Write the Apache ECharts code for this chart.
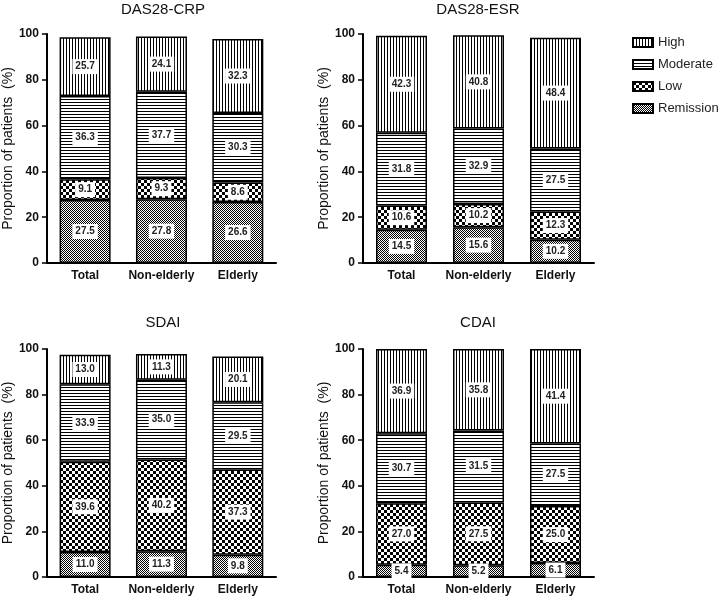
<!DOCTYPE html>
<html><head><meta charset="utf-8">
<script src="https://cdn.jsdelivr.net/npm/echarts@6/dist/echarts.min.js"></script>
<style>html,body{margin:0;padding:0;background:#fff}#c{width:725px;height:597px}</style>
</head><body><div id="c"></div>
<script>
const categories = ['Total', 'Non-elderly', 'Elderly'];
const levels = ['Remission', 'Low', 'Moderate', 'High'];
const legendOrder = ['High', 'Moderate', 'Low', 'Remission'];
const panelTitles = ['DAS28-CRP', 'DAS28-ESR', 'SDAI', 'CDAI'];
const yAxisName = 'Proportion of patients  (%)';
const yMin = 0, yMax = 100, yStep = 20;

const crpRemission = [27.5, 27.8, 26.6];
const crpLow = [9.1, 9.3, 8.6];
const crpModerate = [36.3, 37.7, 30.3];
const crpHigh = [25.7, 24.1, 32.3];

const esrRemission = [14.5, 15.6, 10.2];
const esrLow = [10.6, 10.2, 12.3];
const esrModerate = [31.8, 32.9, 27.5];
const esrHigh = [42.3, 40.8, 48.4];

const sdaiRemission = [11.0, 11.3, 9.8];
const sdaiLow = [39.6, 40.2, 37.3];
const sdaiModerate = [33.9, 35.0, 29.5];
const sdaiHigh = [13.0, 11.3, 20.1];

const cdaiRemission = [5.4, 5.2, 6.1];
const cdaiLow = [27.0, 27.5, 25.0];
const cdaiModerate = [30.7, 31.5, 27.5];
const cdaiHigh = [36.9, 35.8, 41.4];

const panelData = [
  [crpRemission, crpLow, crpModerate, crpHigh],
  [esrRemission, esrLow, esrModerate, esrHigh],
  [sdaiRemission, sdaiLow, sdaiModerate, sdaiHigh],
  [cdaiRemission, cdaiLow, cdaiModerate, cdaiHigh]
];

// ---- styling ----
const FONT = 'Liberation Sans, Arial, sans-serif';
function makePattern(kind) {
  const c = document.createElement('canvas');
  let w = 3, h = 3;
  if (kind === 'Low') { w = 6; h = 6; }
  if (kind === 'Remission') { w = 2; h = 2; }
  c.width = w; c.height = h;
  const ctx = c.getContext('2d');
  ctx.fillStyle = '#fff'; ctx.fillRect(0, 0, w, h);
  ctx.fillStyle = '#000';
  if (kind === 'High') ctx.fillRect(0, 0, 1, h);
  else if (kind === 'Moderate') ctx.fillRect(0, 0, w, 1);
  else if (kind === 'Low') { ctx.fillRect(0, 0, 3, 3); ctx.fillRect(3, 3, 3, 3); }
  else { ctx.fillRect(0, 0, 1, 1); ctx.fillRect(1, 1, 1, 1); }
  return { image: c, repeat: 'repeat' };
}
const patterns = {};
levels.forEach(l => patterns[l] = makePattern(l));

const gridBoxes = [
  { left: 45, top: 34, width: 231, height: 229 },
  { left: 363, top: 34, width: 231, height: 229 },
  { left: 45, top: 349, width: 231, height: 228 },
  { left: 363, top: 349, width: 231, height: 228 }
];
const titlePos = [
  { left: 163, top: 2 }, { left: 478, top: 2 },
  { left: 163, top: 315 }, { left: 478, top: 315 }
];

const option = {
  backgroundColor: '#fff',
  animation: false,
  textStyle: { fontFamily: FONT },
  title: panelTitles.map((t, i) => ({
    text: t, left: titlePos[i].left, top: titlePos[i].top, textAlign: 'center', padding: 0,
    textStyle: { fontSize: 15, fontWeight: 'normal', color: '#111', fontFamily: FONT }
  })),
  legend: {
    data: legendOrder, orient: 'vertical', left: 627, top: 31,
    itemWidth: 20, itemHeight: 9, itemGap: 9, icon: 'rect',
    textStyle: { fontSize: 13, color: '#222', fontFamily: FONT }
  },
  grid: gridBoxes.map(g => Object.assign({ containLabel: false }, g)),
  xAxis: gridBoxes.map((g, i) => ({
    type: 'category', gridIndex: i, data: categories,
    axisLine: { lineStyle: { color: '#000', width: 2 } },
    axisTick: { alignWithLabel: true, length: 4, lineStyle: { color: '#000', width: 1.5 } },
    axisLabel: { interval: 0, color: '#111', fontWeight: 'bold', fontSize: 12, margin: 7, fontFamily: FONT },
    splitLine: { show: false }
  })),
  yAxis: gridBoxes.map((g, i) => ({
    type: 'value', gridIndex: i, min: yMin, max: yMax, interval: yStep,
    name: yAxisName, nameLocation: 'middle', nameGap: 26,
    nameTextStyle: { fontSize: 14, color: '#111', fontFamily: FONT },
    axisLine: { show: true, lineStyle: { color: '#000', width: 2 } },
    axisTick: { show: true, length: 5, lineStyle: { color: '#000', width: 1.5 } },
    axisLabel: { color: '#111', fontWeight: 'bold', fontSize: 12, margin: 8, fontFamily: FONT },
    splitLine: { show: false }
  })),
  series: []
};

panelData.forEach((arrs, p) => {
  arrs.forEach((vals, li) => {
    option.series.push({
      type: 'bar', name: levels[li], xAxisIndex: p, yAxisIndex: p,
      stack: 'panel' + p, barWidth: 51, data: vals,
      itemStyle: { color: patterns[levels[li]], borderColor: '#000', borderWidth: 1.5 },
      label: {
        show: true, position: 'inside',
        formatter: prm => Number(prm.value).toFixed(1),
        backgroundColor: '#fff', padding: [3, 3, 2, 3],
        color: '#222', fontWeight: 'bold', fontSize: 10, fontFamily: FONT
      },
      emphasis: { disabled: true }
    });
  });
});

const chart = echarts.init(document.getElementById('c'), null, { renderer: 'canvas' });
chart.setOption(option);
</script></body></html>
